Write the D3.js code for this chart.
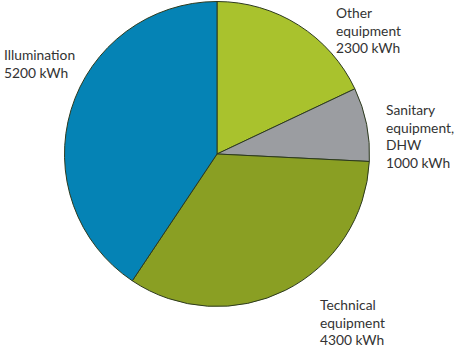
<!DOCTYPE html>
<html>
<head>
<meta charset="utf-8">
<script src="https://cdn.jsdelivr.net/npm/d3@7"></script>
<style>
  html, body { margin: 0; padding: 0; background: #fff; }
  svg { display: block; }
  .lbl { font-family: Lato, "Open Sans", sans-serif; font-size: 13.8px; fill: #333; }
</style>
</head>
<body>
<svg id="chart" width="458" height="349"></svg>
<script>
// Annual electricity use by end use (kWh)
const categories = ["Other equipment", "Sanitary equipment, DHW", "Technical equipment", "Illumination"];
const values = [2300, 1000, 4300, 5200];
const colors = ["#a9c22d", "#9b9da1", "#8a9f23", "#0583b5"];
// Label lines for each slice, and where each label block sits
const labelLines = [
  ["Other", "equipment", "2300 kWh"],
  ["Sanitary", "equipment,", "DHW", "1000 kWh"],
  ["Technical", "equipment", "4300 kWh"],
  ["Illumination", "5200 kWh"]
];
const labelAnchors = [[336, 18], [386, 115], [320, 310], [4, 60]];

const svg = d3.select("#chart");
const cx = 217, cy = 154, r = 152.5;

const pie = d3.pie().sort(null).value(d => d);
const arc = d3.arc().innerRadius(0).outerRadius(r);

const g = svg.append("g").attr("transform", `translate(${cx},${cy})`);
g.selectAll("path")
  .data(pie(values))
  .join("path")
  .attr("d", arc)
  .attr("fill", (d, i) => colors[i])
  .attr("stroke", "#2d3a1e")
  .attr("stroke-width", 1)
  .attr("stroke-linejoin", "round");

const lh = 17.6;
labelLines.forEach((lines, i) => {
  const t = svg.append("text").attr("class", "lbl")
    .attr("x", labelAnchors[i][0]).attr("y", labelAnchors[i][1]);
  lines.forEach((s, j) => {
    t.append("tspan").attr("x", labelAnchors[i][0]).attr("dy", j === 0 ? 0 : lh).text(s);
  });
});
</script>
</body>
</html>
